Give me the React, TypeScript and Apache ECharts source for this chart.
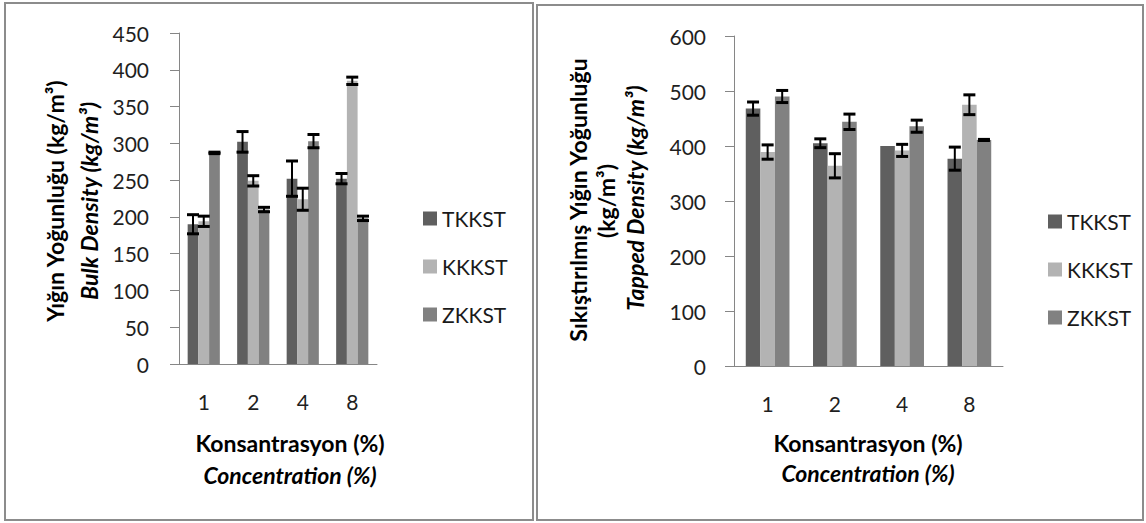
import React, { useEffect, useRef } from "react";
import * as echarts from "echarts";

const categories = ["1", "2", "4", "8"];
const seriesNames = ["TKKST", "KKKST", "ZKKST"];

// Bulk density (left chart)
const bulkTKKST = [190, 302, 252, 252];
const bulkTKKSTErr = [13, 14, 24, 7];
const bulkKKKST = [194, 249, 224, 385];
const bulkKKKSTErr = [7, 7, 15, 5];
const bulkZKKST = [287, 210, 303, 198];
const bulkZKKSTErr = [1, 3, 9, 3];

// Tapped density (right chart)
const tapTKKST = [468, 405, 400, 377];
const tapTKKSTErr = [12, 8, 0, 21];
const tapKKKST = [389, 364, 392, 475];
const tapKKKSTErr = [13, 22, 11, 18];
const tapZKKST = [490, 444, 436, 411];
const tapZKKSTErr = [11, 14, 11, 1];

const bulkTicks = { min: 0, max: 450, interval: 50 };
const tapTicks = { min: 0, max: 600, interval: 100 };

const colors = ["#5f5f5f", "#b3b3b3", "#818181"];
const FONT = 'Lato, "Noto Sans", sans-serif';
const GAP = 0.35;

function barSeries(name: string, data: number[], idx: number, axis: number) {
  return {
    type: "bar",
    name,
    xAxisIndex: axis,
    yAxisIndex: axis,
    data,
    barGap: "0%",
    barCategoryGap: GAP * 100 + "%",
    itemStyle: { color: colors[idx] },
    silent: true,
  };
}

function errSeries(values: number[], errs: number[], idx: number, axis: number) {
  return {
    type: "custom",
    xAxisIndex: axis,
    yAxisIndex: axis,
    silent: true,
    z: 10,
    data: values.map((v, i) => [i, v, errs[i]]),
    encode: { x: 0, y: 1 },
    renderItem: (params: any, api: any) => {
      const c = api.value(0);
      const m = api.value(1);
      const e = api.value(2);
      if (!e) return { type: "group", children: [] };
      const band = api.size([1, 0])[0];
      const bw = (band * (1 - GAP)) / 3;
      const base = api.coord([c, m]);
      const x = base[0] + (idx - 1) * bw;
      const top = api.coord([c, m + e])[1];
      const bot = api.coord([c, m - e])[1];
      const hw = 6;
      const st = { stroke: "#000", lineWidth: 2 };
      const cap = { stroke: "#000", lineWidth: 3 };
      return {
        type: "group",
        children: [
          { type: "line", shape: { x1: x, y1: top, x2: x, y2: bot }, style: st },
          { type: "line", shape: { x1: x - hw, y1: top, x2: x + hw, y2: top }, style: cap },
          { type: "line", shape: { x1: x - hw, y1: bot, x2: x + hw, y2: bot }, style: cap },
        ],
      };
    },
  };
}

function txt(text: string, x: number, y: number, rotate: boolean, italic: boolean, size = 23) {
  return {
    type: "text",
    x,
    y,
    rotation: rotate ? Math.PI / 2 : 0,
    style: {
      text,
      fill: "#000",
      fontFamily: FONT,
      fontSize: size,
      fontWeight: "bold",
      fontStyle: italic ? "italic" : "normal",
      align: "center",
      verticalAlign: "middle",
      textAlign: "center",
      textVerticalAlign: "middle",
    },
  };
}

const axisLineStyle = { color: "#868686", width: 1 };
const labelStyle = { color: "#1f1f1f", fontSize: 21, fontFamily: FONT };

export default function App() {
  const ref = useRef<HTMLDivElement>(null);
  useEffect(() => {
    if (!ref.current) return;
    const chart = echarts.init(ref.current, null, { renderer: "svg" });
    const legendBase = {
      orient: "vertical",
      itemWidth: 14,
      itemHeight: 14,
      itemGap: 27,
      icon: "rect",
      data: seriesNames,
      textStyle: { fontSize: 21, fontFamily: FONT, color: "#1a1a1a", lineHeight: 21 },
      selectedMode: false,
    };
    chart.setOption({
      animation: false,
      backgroundColor: "#fff",
      grid: [
        { left: 179, top: 33, width: 198, height: 331 },
        { left: 734, top: 36, width: 269, height: 330 },
      ],
      xAxis: [0, 1].map((g) => ({
        type: "category",
        gridIndex: g,
        data: categories,
        axisLine: { lineStyle: axisLineStyle },
        axisTick: { length: 8, lineStyle: axisLineStyle },
        axisLabel: { ...labelStyle, margin: 27 },
      })),
      yAxis: [bulkTicks, tapTicks].map((t, g) => ({
        type: "value",
        gridIndex: g,
        min: t.min,
        max: t.max,
        interval: t.interval,
        splitLine: { show: false },
        axisLine: { show: true, lineStyle: axisLineStyle },
        axisTick: { show: true, length: 9, lineStyle: axisLineStyle },
        axisLabel: { ...labelStyle, margin: g === 0 ? 30 : 28 },
      })),
      legend: [
        { ...legendBase, left: 418, top: 203 },
        { ...legendBase, left: 1043, top: 206 },
      ],
      series: [
        barSeries("TKKST", bulkTKKST, 0, 0),
        barSeries("KKKST", bulkKKKST, 1, 0),
        barSeries("ZKKST", bulkZKKST, 2, 0),
        barSeries("TKKST", tapTKKST, 0, 1),
        barSeries("KKKST", tapKKKST, 1, 1),
        barSeries("ZKKST", tapZKKST, 2, 1),
        errSeries(bulkTKKST, bulkTKKSTErr, 0, 0),
        errSeries(bulkKKKST, bulkKKKSTErr, 1, 0),
        errSeries(bulkZKKST, bulkZKKSTErr, 2, 0),
        errSeries(tapTKKST, tapTKKSTErr, 0, 1),
        errSeries(tapKKKST, tapKKKSTErr, 1, 1),
        errSeries(tapZKKST, tapZKKSTErr, 2, 1),
      ],
      graphic: [
        { type: "rect", shape: { x: 5, y: 3, width: 528, height: 517 }, style: { fill: "none", stroke: "#8c8c8c", lineWidth: 2 }, silent: true },
        { type: "rect", shape: { x: 537, y: 5, width: 606, height: 515 }, style: { fill: "none", stroke: "#8c8c8c", lineWidth: 2 }, silent: true },
        txt("Yığın Yoğunluğu (kg/m³)", 55, 201, true, false),
        txt("Bulk Density (kg/m³)", 89, 201, true, true),
        txt("Sıkıştırılmış Yığın Yoğunluğu", 578, 200, true, false),
        txt("(kg/m³)", 606, 201, true, false),
        txt("Tapped Density (kg/m³)", 635, 198, true, true),
        txt("Konsantrasyon (%)", 290, 443, false, false),
        txt("Concentration (%)", 290, 475, false, true),
        txt("Konsantrasyon (%)", 868, 443, false, false),
        txt("Concentration (%)", 868, 473, false, true),
      ],
    });
    return () => chart.dispose();
  }, []);
  return (
    <div
      ref={ref}
      style={{ position: "fixed", left: 0, top: 0, width: 1146, height: 523, background: "#fff" }}
    />
  );
}
